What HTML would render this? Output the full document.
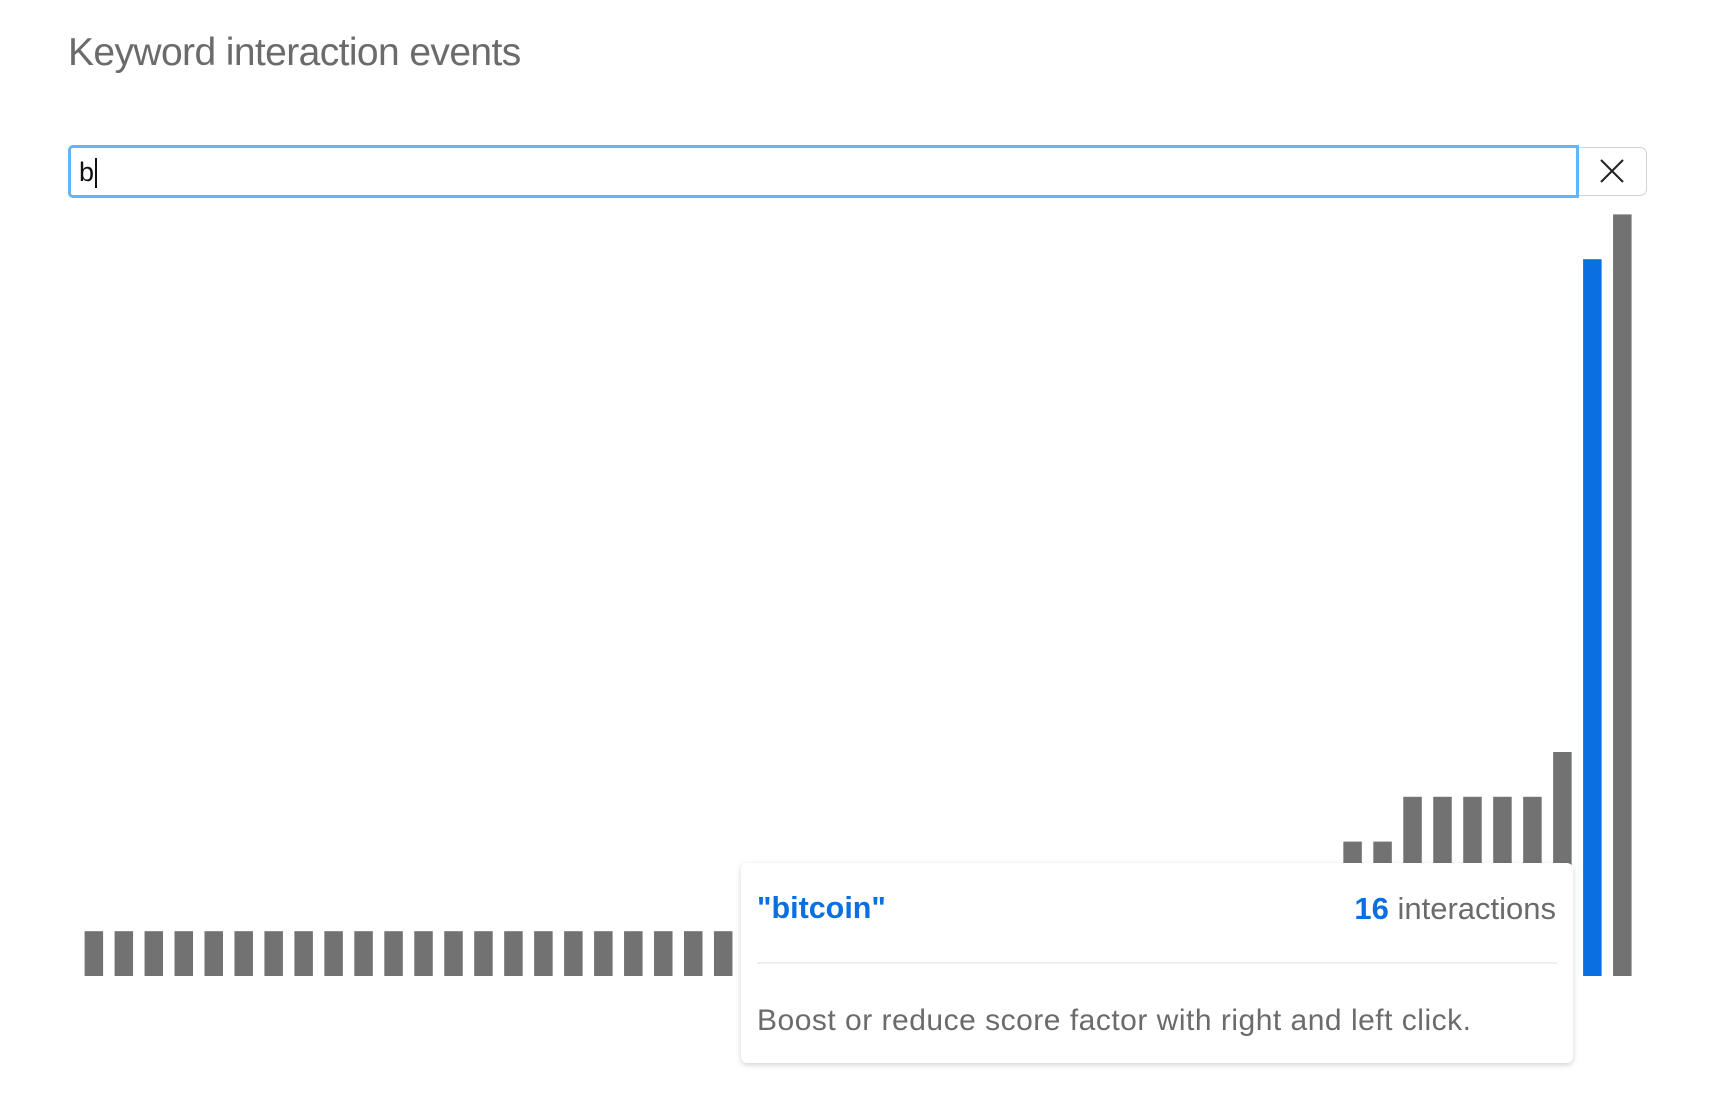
<!DOCTYPE html>
<html><head><meta charset="utf-8"><style>
html,body{margin:0;padding:0;background:#fff;width:1714px;height:1114px;overflow:hidden;font-family:"Liberation Sans",sans-serif;}
#title{position:absolute;left:68px;top:31px;font-size:39px;color:#6b6b6b;letter-spacing:-0.6px;white-space:nowrap;}
#search{position:absolute;left:68px;top:145px;width:1505px;height:47px;border:3px solid #62b6f7;border-radius:5px 0 0 5px;box-sizing:content-box;}
#search span{position:absolute;left:8px;top:9px;font-size:27px;color:#111;}
#search i{position:absolute;left:24px;top:10px;width:2px;height:30px;background:#111;}
#clear{position:absolute;left:1579px;top:147px;width:67px;height:47px;border:1px solid #d0d4d8;border-left:none;border-radius:0 7px 7px 0;}
#tip{position:absolute;left:741px;top:863px;width:832px;height:200px;background:#fff;border-radius:6px;box-shadow:0 2px 6px rgba(0,0,0,0.18);}
#kw{position:absolute;left:16px;top:28px;font-size:30.5px;font-weight:bold;color:#0a6fe0;}
#cnt{position:absolute;right:17px;top:28px;font-size:31px;color:#6b6b6b;}
#cnt b{color:#0a6fe0;}
#div{position:absolute;left:16px;right:16px;top:99px;height:2px;background:#eeeeee;}
#help{position:absolute;left:16px;top:141px;font-size:30px;color:#6b6b6b;letter-spacing:0.5px;white-space:nowrap;}
</style></head><body>
<div id="title">Keyword interaction events</div>
<div id="search"><span>b</span><i></i></div>
<div id="clear">
<svg width="67" height="47"><line x1="22" y1="12" x2="44" y2="34" stroke="#222" stroke-width="2"/><line x1="44" y1="12" x2="22" y2="34" stroke="#222" stroke-width="2"/></svg></div>
<svg id="chart" width="1714" height="1114" style="position:absolute;left:0;top:0;pointer-events:none"></svg>
<div id="tip">
<div id="kw">"bitcoin"</div>
<div id="cnt"><b>16</b> interactions</div>
<div id="div"></div>
<div id="help">Boost or reduce score factor with right and left click.</div>
</div>
<script>
const keywordIndex=[];for(let i=0;i<52;i++)keywordIndex.push(i);
const counts=[1,1,1,1,1,1,1,1,1,1,1,1,1,1,1,1,1,1,1,1,1,1,
1,1,1,1,1,1,1,1,1,1,1,1,1,1,1,1,1,1,1,1,
3,3,4,4,4,4,4,5,16,17];
const highlighted=[50];
const svg=document.getElementById('chart');
const x0=84.6,step=29.97,bw=18.5,base=976,unit=44.8;
function xScale(i){return x0+i*step;}
function yScale(v){return base-v*unit;}
counts.forEach((v,i)=>{
 const r=document.createElementNS('http://www.w3.org/2000/svg','rect');
 r.setAttribute('x',xScale(i));r.setAttribute('y',yScale(v));
 r.setAttribute('width',bw);r.setAttribute('height',base-yScale(v));
 r.setAttribute('fill',highlighted.includes(i)?'#0a6fe0':'#727272');
 
 
 svg.appendChild(r);
});
</script>
</body></html>
